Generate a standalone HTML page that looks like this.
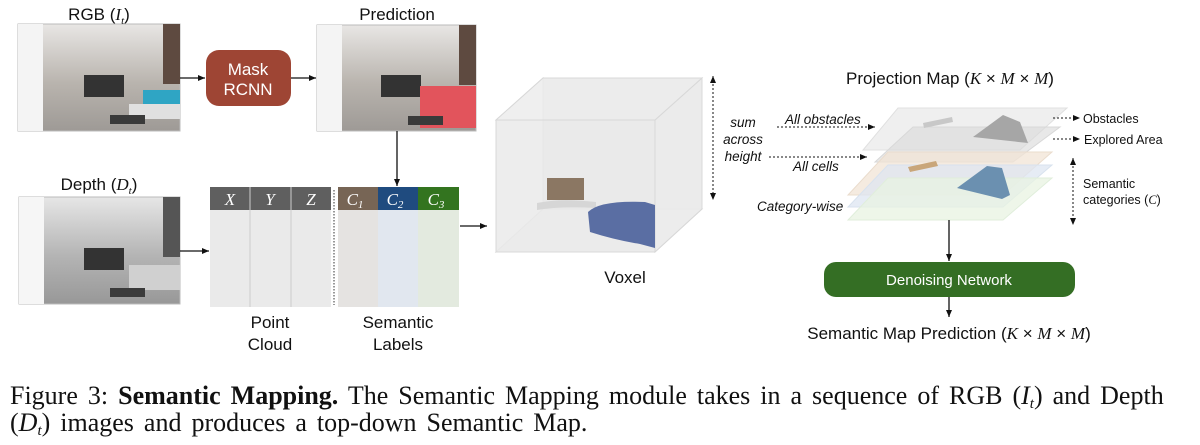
<!DOCTYPE html>
<html><head><style>
body{margin:0;background:#fff;width:1200px;height:445px;overflow:hidden}
svg{display:block}
.s{font-family:"Liberation Sans",sans-serif;fill:#111}
.m{font-family:"Liberation Serif",serif;font-style:italic}
.cap{position:absolute;left:10px;top:382px;font-family:"Liberation Serif",serif;font-size:26px;line-height:27px;color:#111;white-space:nowrap;word-spacing:3.5px}
.cap sub{font-size:15px;line-height:0;vertical-align:-4px}
</style></head><body>
<svg width="1200" height="445" viewBox="0 0 1200 445">
<defs>
<marker id="a" markerWidth="8" markerHeight="8" refX="7" refY="4" orient="auto" markerUnits="userSpaceOnUse"><path d="M0,1 L7,4 L0,7z" fill="#111"/></marker>
<marker id="b" markerWidth="8" markerHeight="8" refX="1" refY="4" orient="auto" markerUnits="userSpaceOnUse"><path d="M8,1 L1,4 L8,7z" fill="#111"/></marker>
<linearGradient id="room" x1="0" y1="0" x2="0" y2="1"><stop offset="0" stop-color="#e8e6e4"/><stop offset="0.55" stop-color="#b9b4ae"/><stop offset="1" stop-color="#9e9a96"/></linearGradient>
<linearGradient id="gray" x1="0" y1="0" x2="0" y2="1"><stop offset="0" stop-color="#e6e6e6"/><stop offset="0.55" stop-color="#b4b4b4"/><stop offset="1" stop-color="#989898"/></linearGradient>
</defs>
<g>
<rect x="18" y="24" width="162" height="107" fill="url(#room)" stroke="#bbb"/>
<rect x="18" y="24" width="25" height="107" fill="#f4f4f4"/>
<rect x="163" y="24" width="17" height="60" fill="#5e4a40"/>
<rect x="84" y="75" width="40" height="22" fill="#333"/>
<rect x="143" y="90" width="37" height="18" fill="#2fa5c4"/>
<rect x="129" y="104" width="51" height="15" fill="#e0e0e0"/>
<rect x="110" y="115" width="35" height="9" fill="#3a3a3a"/>
</g>
<g>
<rect x="317" y="25" width="159" height="106" fill="url(#room)" stroke="#bbb"/>
<rect x="317" y="25" width="25" height="106" fill="#f4f4f4"/>
<rect x="459" y="25" width="17" height="60" fill="#5e4a40"/>
<rect x="381" y="75" width="40" height="22" fill="#333"/>
<rect x="420" y="86" width="56" height="42" fill="#e2545c"/>
<rect x="408" y="116" width="35" height="9" fill="#3a3a3a"/>
</g>
<g>
<rect x="19" y="197" width="161" height="107" fill="url(#gray)" stroke="#bbb"/>
<rect x="19" y="197" width="25" height="107" fill="#f6f6f6"/>
<rect x="163" y="197" width="17" height="60" fill="#555"/>
<rect x="84" y="248" width="40" height="22" fill="#333"/>
<rect x="129" y="265" width="51" height="25" fill="#d0d0d0"/>
<rect x="110" y="288" width="35" height="9" fill="#3a3a3a"/>
</g>
<text class="s" x="99" y="20" font-size="17" text-anchor="middle">RGB (<tspan class="m" font-family="Liberation Serif">I<tspan font-size="11" dy="4">t</tspan></tspan><tspan dy="-4">)</tspan></text>
<text class="s" x="397" y="20" font-size="17" text-anchor="middle">Prediction</text>
<text class="s" x="99" y="190" font-size="17" text-anchor="middle">Depth (<tspan class="m" font-family="Liberation Serif">D<tspan font-size="11" dy="4">t</tspan></tspan><tspan dy="-4">)</tspan></text>
<line x1="180" y1="78" x2="205" y2="78" stroke="#111" stroke-width="1.3" marker-end="url(#a)"/>
<rect x="206" y="50" width="85" height="56" rx="13" fill="#9e4534"/>
<text class="s" x="248" y="75" font-size="17" text-anchor="middle" style="fill:#fff">Mask</text>
<text class="s" x="248" y="95" font-size="17" text-anchor="middle" style="fill:#fff">RCNN</text>
<line x1="291" y1="78" x2="316" y2="78" stroke="#111" stroke-width="1.3" marker-end="url(#a)"/>
<line x1="397" y1="131" x2="397" y2="186" stroke="#111" stroke-width="1.3" marker-end="url(#a)"/>
<line x1="180" y1="251" x2="209" y2="251" stroke="#111" stroke-width="1.3" marker-end="url(#a)"/>
<rect x="210" y="210" width="121" height="97" fill="#eaeaea"/>
<rect x="210" y="187" width="121" height="23" fill="#5f5f5f"/>
<line x1="250" y1="187" x2="250" y2="307" stroke="#ccc"/>
<line x1="291" y1="187" x2="291" y2="307" stroke="#ccc"/>
<line x1="334" y1="190" x2="334" y2="305" stroke="#333" stroke-dasharray="1.5,1.5"/>
<rect x="338" y="210" width="40" height="97" fill="#e5e3e1"/>
<rect x="378" y="210" width="40" height="97" fill="#e1e7ef"/>
<rect x="418" y="210" width="41" height="97" fill="#e3eadf"/>
<rect x="338" y="187" width="40" height="23" fill="#776555"/>
<rect x="378" y="187" width="40" height="23" fill="#1f4b7f"/>
<rect x="418" y="187" width="41" height="23" fill="#33741f"/>
<g font-family="Liberation Serif" font-style="italic" font-size="17" fill="#fff" text-anchor="middle">
<text x="230" y="205">X</text><text x="270" y="205">Y</text><text x="311" y="205">Z</text>
<text x="355" y="205">C<tspan font-size="11" dy="3">1</tspan></text>
<text x="395" y="205">C<tspan font-size="11" dy="3">2</tspan></text>
<text x="436" y="205">C<tspan font-size="11" dy="3">3</tspan></text>
</g>
<text class="s" x="270" y="328" font-size="17" text-anchor="middle">Point</text>
<text class="s" x="270" y="350" font-size="17" text-anchor="middle">Cloud</text>
<text class="s" x="398" y="328" font-size="17" text-anchor="middle">Semantic</text>
<text class="s" x="398" y="350" font-size="17" text-anchor="middle">Labels</text>
<line x1="460" y1="226" x2="487" y2="226" stroke="#111" stroke-width="1.3" marker-end="url(#a)"/>
<polygon points="543,78 702,78 702,209 543,209" fill="#e4e4e4" stroke="#ddd"/>
<polygon points="496,120 543,78 543,209 496,252" fill="#ececec" stroke="#ddd"/>
<polygon points="496,252 543,209 702,209 655,252" fill="#e6e6e6" stroke="#ddd"/>
<polygon points="496,120 655,120 655,252 496,252" fill="#eeeeee" fill-opacity="0.6" stroke="#d8d8d8"/>
<polygon points="655,120 702,78 702,209 655,252" fill="#f0f0f0" fill-opacity="0.6" stroke="#d8d8d8"/>
<polygon points="496,120 543,78 702,78 655,120" fill="#f2f2f2" fill-opacity="0.6" stroke="#d8d8d8"/>
<rect x="547" y="178" width="37" height="22" fill="#8b7763"/>
<path d="M537,203 Q560,198 596,202 L596,208 Q560,206 537,210z" fill="#d6d6d6"/>
<path d="M588,212 Q600,200 645,202 L655,205 L655,248 L640,244 Q615,240 590,232z" fill="#5a6ea3"/>
<text class="s" x="625" y="283" font-size="17" text-anchor="middle">Voxel</text>
<line x1="713" y1="76" x2="713" y2="200" stroke="#111" stroke-dasharray="2,2" marker-start="url(#b)" marker-end="url(#a)"/>
<text class="s" x="950" y="84" font-size="17" text-anchor="middle">Projection Map (<tspan font-family="Liberation Serif" font-style="italic">K</tspan> × <tspan font-family="Liberation Serif" font-style="italic">M</tspan> × <tspan font-family="Liberation Serif" font-style="italic">M</tspan>)</text>
<polygon points="898,108 1067,108 1020,150 863,150" fill="#e8e8e8" fill-opacity="0.7" stroke="#e0e0e0"/>
<polygon points="913,127 1060,127 1013,162 875,162" fill="#d9d9d9" fill-opacity="0.6" stroke="#d8d8d8"/>
<polygon points="888,152 1052,152 1003,195 848,195" fill="#f1e4d6" fill-opacity="0.75" stroke="#eadccd"/>
<polygon points="888,165 1052,165 1003,207 848,207" fill="#dde6f2" fill-opacity="0.75" stroke="#d8e2ee"/>
<polygon points="888,178 1052,178 1003,220 848,220" fill="#e8f3e2" fill-opacity="0.75" stroke="#e0eedb"/>
<polygon points="1003,115 1020,122 1028,143 973,137" fill="#a6a6a6"/>
<polygon points="923,123 952,117 953,122 924,128" fill="#c8c8c8"/>
<polygon points="908,167 936,161 938,166 910,172" fill="#c9a67a"/>
<polygon points="987,166 1002,168 1010,195 1002,199 957,188" fill="#6b90b0"/>
<g class="s" font-size="13.5" font-style="italic">
<text x="743" y="127" text-anchor="middle">sum</text>
<text x="743" y="144" text-anchor="middle">across</text>
<text x="743" y="161" text-anchor="middle">height</text>
<text x="785" y="124">All obstacles</text>
<text x="793" y="171">All cells</text>
<text x="757" y="211">Category-wise</text>
</g>
<line x1="777" y1="127" x2="875" y2="127" stroke="#111" stroke-dasharray="2,2" marker-end="url(#a)"/>
<line x1="769" y1="157" x2="867" y2="157" stroke="#111" stroke-dasharray="2,2" marker-end="url(#a)"/>
<line x1="1053" y1="118" x2="1080" y2="118" stroke="#111" stroke-dasharray="2,2" marker-end="url(#a)"/>
<line x1="1053" y1="139" x2="1080" y2="139" stroke="#111" stroke-dasharray="2,2" marker-end="url(#a)"/>
<line x1="1073" y1="158" x2="1073" y2="225" stroke="#111" stroke-dasharray="2,2" marker-start="url(#b)" marker-end="url(#a)"/>
<g class="s" font-size="12.5">
<text x="1083" y="123">Obstacles</text>
<text x="1084" y="144">Explored Area</text>
<text x="1083" y="188">Semantic</text>
<text x="1083" y="204">categories (<tspan font-family="Liberation Serif" font-style="italic">C</tspan>)</text>
</g>
<line x1="949" y1="220" x2="949" y2="261" stroke="#111" stroke-width="1.3" marker-end="url(#a)"/>
<rect x="824" y="262" width="251" height="35" rx="12" fill="#346e24"/>
<text class="s" x="949" y="285" font-size="15" text-anchor="middle" style="fill:#fff">Denoising Network</text>
<line x1="949" y1="297" x2="949" y2="317" stroke="#111" stroke-width="1.3" marker-end="url(#a)"/>
<text class="s" x="949" y="339" font-size="17" text-anchor="middle">Semantic Map Prediction (<tspan font-family="Liberation Serif" font-style="italic">K</tspan> × <tspan font-family="Liberation Serif" font-style="italic">M</tspan> × <tspan font-family="Liberation Serif" font-style="italic">M</tspan>)</text>
</svg>
<div class="cap">Figure 3: <b>Semantic Mapping.</b> The Semantic Mapping module takes in a sequence of RGB (<i>I<sub>t</sub></i>) and Depth<br>(<i>D<sub>t</sub></i>) images and produces a top-down Semantic Map.</div>
</body></html>
